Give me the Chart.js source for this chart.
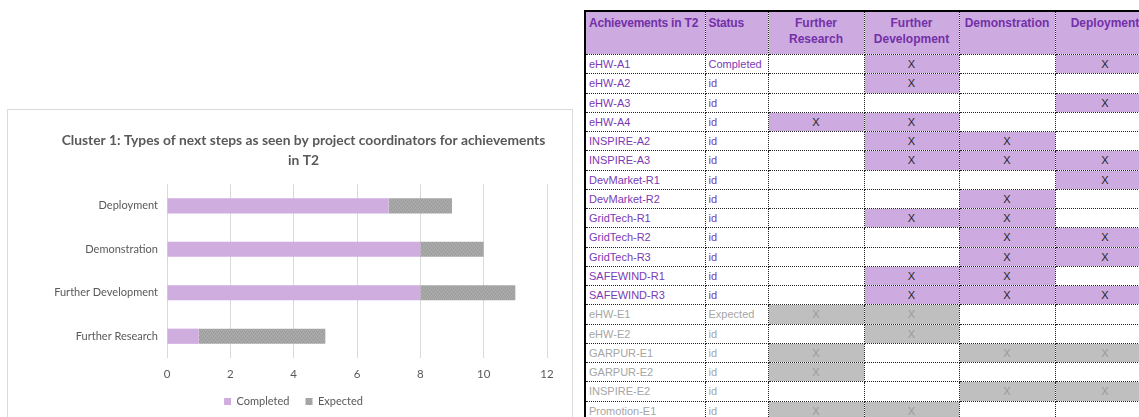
<!DOCTYPE html>
<html><head><meta charset="utf-8">
<script src="https://cdn.jsdelivr.net/npm/chart.js@4.4.1/dist/chart.umd.min.js"></script>
<style>
html,body{margin:0;padding:0;background:#fff;width:1139px;height:417px;overflow:hidden;position:relative;}
#chartBox{position:absolute;left:7px;top:109px;width:566px;height:330px;border:1px solid #d9d9d9;box-sizing:border-box;}
#chartWrap{position:absolute;left:8px;top:110px;width:562px;height:307px;}
#tbl{position:absolute;left:584px;top:10px;border-collapse:collapse;table-layout:fixed;width:570px;
  border-top:2px solid #000;border-left:2px solid #000;font-family:"Liberation Sans",Arial,sans-serif;}
#tbl td,#tbl th{border:1px dotted #222;padding:0 3px;height:18.25px;line-height:18px;font-size:11px;overflow:hidden;white-space:nowrap;}
#tbl th{background:#cdaae0;color:#7330a8;font-weight:bold;font-size:12px;vertical-align:top;height:39px;line-height:16px;padding-top:3px;text-align:center;white-space:normal;}
#tbl th.l{text-align:left;white-space:nowrap;letter-spacing:-0.2px;}
#tbl td.c{color:#7b3ab5;}
#tbl td.e{color:#a6a6a6;}
#tbl td.m{text-align:center;}
#tbl td.pc{background:#cdaae0;color:#262626;}
#tbl td.pe{background:#bfbfbf;color:#9a9a9a;}
</style></head>
<body>
<div id="chartBox"></div>
<div id="chartWrap"><canvas id="c"></canvas></div>
<table id="tbl"></table>
<script>
// ---- Chart data ----
const categories = ['Deployment', 'Demonstration', 'Further Development', 'Further Research'];
const completedValues = [7, 8, 8, 1];
const expectedValues = [2, 2, 3, 4];
const xTicks = [0, 2, 4, 6, 8, 10, 12];
const chartTitle = ['Cluster 1: Types of next steps as seen by project coordinators for achievements', 'in T2'];

// ---- Table data ----
const tableHeaders = ['Achievements in T2', 'Status', 'Further<br>Research', 'Further<br>Development', 'Demonstration', 'Deployment'];
const achievements = ['eHW-A1','eHW-A2','eHW-A3','eHW-A4','INSPIRE-A2','INSPIRE-A3','DevMarket-R1','DevMarket-R2',
  'GridTech-R1','GridTech-R2','GridTech-R3','SAFEWIND-R1','SAFEWIND-R3','eHW-E1','eHW-E2','GARPUR-E1','GARPUR-E2','INSPIRE-E2','Promotion-E1'];
const statusText = ['Completed','id','id','id','id','id','id','id','id','id','id','id','id','Expected','id','id','id','id','id'];
const rowGroup = ['C','C','C','C','C','C','C','C','C','C','C','C','C','E','E','E','E','E','E'];
const markFurtherResearch    = [0,0,0,1,0,0,0,0,0,0,0,0,0,1,0,1,1,0,1];
const markFurtherDevelopment = [1,1,0,1,1,1,0,0,1,0,0,1,1,1,1,0,0,0,1];
const markDemonstration      = [0,0,0,0,1,1,0,1,1,1,1,1,1,0,0,1,0,1,0];
const markDeployment         = [1,0,1,0,0,1,1,0,0,1,1,0,1,0,0,1,0,1,0];

// build table
(function(){
  const t = document.getElementById('tbl');
  const widths = [120, 63, 96, 95, 96, 100];
  const cg = document.createElement('colgroup');
  widths.forEach(w => { const c = document.createElement('col'); c.style.width = w + 'px'; cg.appendChild(c); });
  t.appendChild(cg);
  const hr = document.createElement('tr');
  tableHeaders.forEach((h, i) => { const th = document.createElement('th'); th.innerHTML = h; if (i < 2) th.className = 'l'; hr.appendChild(th); });
  t.appendChild(hr);
  const marks = [markFurtherResearch, markFurtherDevelopment, markDemonstration, markDeployment];
  achievements.forEach((a, r) => {
    const tr = document.createElement('tr');
    const g = rowGroup[r] === 'C' ? 'c' : 'e';
    const td1 = document.createElement('td'); td1.className = g; td1.textContent = a; tr.appendChild(td1);
    const td2 = document.createElement('td'); td2.className = g; td2.textContent = statusText[r]; tr.appendChild(td2);
    marks.forEach(m => {
      const td = document.createElement('td');
      td.className = 'm';
      if (m[r]) { td.classList.add(g === 'c' ? 'pc' : 'pe'); td.textContent = 'X'; }
      tr.appendChild(td);
    });
    t.appendChild(tr);
  });
})();

// texture pattern for Expected
function makePattern(){
  const pc = document.createElement('canvas'); pc.width = 4; pc.height = 4;
  const x = pc.getContext('2d');
  x.fillStyle = '#a5a5a5'; x.fillRect(0,0,4,4);
  x.fillStyle = '#9b9b9b'; [[0,0],[2,1],[1,2],[3,3]].forEach(p => x.fillRect(p[0],p[1],1,1));
  x.fillStyle = '#afafaf'; [[1,0],[3,1],[0,3],[2,2]].forEach(p => x.fillRect(p[0],p[1],1,1));
  return x.createPattern(pc, 'repeat');
}

const shiftPlugin = {
  id: 'shiftBoxes',
  afterLayout(chart) {
    if (chart.titleBlock) { chart.titleBlock.left += 22; chart.titleBlock.right += 22; }
    if (chart.legend) { chart.legend.left += 12; chart.legend.right += 12; }
  }
};

const FONT = 'Lato, "Open Sans", sans-serif';
new Chart(document.getElementById('c'), {
  type: 'bar',
  data: {
    labels: categories,
    datasets: [
      { label: 'Completed', data: completedValues, backgroundColor: '#cfaddf', barPercentage: 0.35, categoryPercentage: 1 },
      { label: 'Expected', data: expectedValues, backgroundColor: makePattern(), barPercentage: 0.35, categoryPercentage: 1 }
    ]
  },
  plugins: [shiftPlugin],
  options: {
    indexAxis: 'y',
    responsive: true,
    maintainAspectRatio: false,
    animation: false,
    layout: { padding: { left: 8, right: 23, top: 0, bottom: 0 } },
    plugins: {
      title: { display: true, text: chartTitle, color: '#595959', font: { family: FONT, size: 13.8, weight: 'bold', lineHeight: 1.45 }, padding: { top: 21, bottom: 13 } },
      legend: { position: 'bottom', labels: { boxWidth: 7, boxHeight: 7, color: '#595959', font: { family: FONT, size: 11 }, padding: 16 } },
      tooltip: { enabled: false }
    },
    scales: {
      x: {
        stacked: true, min: 0, max: 12,
        afterBuildTicks: s => { s.ticks = xTicks.map(v => ({ value: v })); },
        grid: { color: '#d9d9d9', drawTicks: false },
        border: { display: false },
        ticks: { color: '#595959', font: { family: FONT, size: 11.5 }, padding: 9 },
        afterFit: s => { s.height = 22; }
      },
      y: {
        stacked: true,
        grid: { display: false, drawTicks: false },
        border: { display: false },
        ticks: { color: '#595959', font: { family: FONT, size: 11 }, padding: 9 },
        afterFit: s => { s.width = 151; }
      }
    }
  }
});
</script>
</body></html>
